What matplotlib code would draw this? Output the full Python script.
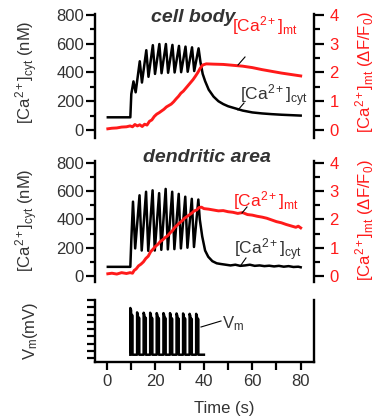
import matplotlib
matplotlib.use('Agg')
import matplotlib.pyplot as plt
from matplotlib.lines import Line2D

plt.rcParams['font.family'] = ['Liberation Sans', 'DejaVu Sans']
plt.rcParams['mathtext.fontset'] = 'custom'
plt.rcParams['mathtext.rm'] = 'Liberation Sans'
plt.rcParams['mathtext.it'] = 'Liberation Sans:italic'
plt.rcParams['mathtext.bf'] = 'Liberation Sans:bold'

# ---- data ----
# cell body, cytosolic Ca (nM)
body_cyt_t = [0.3, 9.6, 10.0, 10.9, 11.8, 13.5, 14.4, 16.2, 17.1, 18.9, 19.8, 21.6, 22.5,
              24.3, 25.2, 27.0, 27.9, 29.7, 30.6, 32.4, 33.3, 35.1, 36.0, 37.8, 38.6,
              39.5, 40.5, 42, 44, 46, 48, 50, 53, 56, 60, 64, 68, 72, 76, 80]
body_cyt_v = [88, 88, 250, 338, 262, 478, 330, 555, 370, 590, 390, 598, 395,
              598, 398, 592, 400, 585, 402, 580, 405, 575, 410, 568, 470,
              390, 340, 280, 232, 200, 180, 165, 150, 135, 122, 115, 110, 106, 103, 100]
# cell body, mitochondrial Ca (dF/F0)
body_mt_t = [0.3, 2, 4, 6, 8, 9.5, 10.5, 11.5, 12.5, 13.5, 14.5, 15.5, 16.5, 17.5, 18.5,
             19.5, 20.5, 21.5, 22.5, 23.5, 24.5, 25.5, 26.5, 27.5, 28.5, 29.5, 30.5,
             31.5, 32.5, 33.5, 34.5, 35.5, 36.5, 37.5, 38.5, 39.5, 41, 44, 48, 52, 56,
             60, 64, 68, 72, 76, 80]
body_mt_v = [0.04, 0.06, 0.07, 0.10, 0.11, 0.14, 0.11, 0.19, 0.14, 0.18, 0.12, 0.2, 0.17,
             0.3, 0.35, 0.47, 0.55, 0.6, 0.66, 0.72, 0.8, 0.85, 0.9, 0.98, 1.08, 1.17,
             1.28, 1.35, 1.45, 1.55, 1.65, 1.75, 1.87, 2.0, 2.15, 2.26, 2.3, 2.29, 2.28,
             2.25, 2.22, 2.17, 2.1, 2.04, 1.98, 1.93, 1.88]

# dendritic area, cytosolic Ca (nM)
dend_cyt_t = [0.3, 9.6, 10.0, 10.7, 11.6, 13.4, 14.3, 16.1, 17.0, 18.8, 19.7, 21.5, 22.4,
              24.2, 25.1, 26.9, 27.8, 29.6, 30.5, 32.3, 33.2, 35.0, 35.9, 37.7, 38.3,
              39.3, 40.5, 41.8, 43.5, 45.3, 47, 49, 51, 53, 55, 57, 59, 61, 63, 65, 67,
              69, 71, 73, 75, 77, 79, 80]
dend_cyt_v = [65, 65, 250, 525, 195, 570, 180, 595, 178, 605, 180, 585, 185,
              615, 188, 595, 190, 580, 195, 560, 200, 545, 205, 540, 400,
              280, 180, 136, 105, 90, 85, 80, 75, 80, 72, 75, 80, 72, 75, 70, 73,
              68, 72, 66, 70, 64, 66, 62]
# dendritic area, mitochondrial Ca (dF/F0)
dend_mt_t = [0.3, 2, 4, 6, 8, 9.5, 10.5, 11.2, 12, 13, 14, 15, 16, 17, 18, 19, 20, 21, 22,
             23, 24, 25, 26, 27, 28, 29, 30, 31, 32, 33, 34, 35, 36, 37, 38, 39, 40, 42,
             44, 46, 48, 50, 52, 54, 56, 58, 60, 62, 64, 66, 68, 70, 72, 74, 76, 78, 79, 80]
dend_mt_v = [0.08, 0.1, 0.07, 0.12, 0.09, 0.12, 0.1, 0.2, 0.25, 0.36, 0.42, 0.5, 0.62, 0.7,
             0.86, 0.95, 1.05, 1.12, 1.22, 1.28, 1.36, 1.42, 1.52, 1.6, 1.72, 1.8, 1.88,
             1.95, 2.04, 2.1, 2.16, 2.22, 2.3, 2.33, 2.42, 2.43, 2.38, 2.36, 2.33, 2.3,
             2.31, 2.27, 2.25, 2.21, 2.24, 2.17, 2.15, 2.11, 2.08, 2.04, 1.98, 1.92, 1.88,
             1.82, 1.77, 1.72, 1.76, 1.7]

# membrane potential: burst onsets (s) and peak / shoulder values (mV)
vm_onset = [9.6, 12.4, 15.1, 17.8, 20.5, 23.3, 26.0, 28.7, 31.4, 34.1, 36.8]
vm_peak = [58, 46, 45, 45, 44, 44, 44, 43, 43, 42, 42]
vm_shoulder = [40, 33, 33, 32, 32, 32, 31, 31, 31, 30, 30]
vm_rest = -70
vm_end = 40.0

W, H = 385, 417
fig = plt.figure(figsize=(W / 100, H / 100), dpi=100)


def box(l, r, t, b):
    return [l / W, 1 - b / H, (r - l) / W, (b - t) / H]


def fx(x):
    return x / W


def fy(y):
    return 1 - y / H


GRAY = '#333333'
RED = '#ff1a1a'
XLIM = (-5, 85.5)
CYT = r'[Ca$^{\mathrm{2+}}$]$_{\mathrm{cyt}}$'
MT = r'[Ca$^{\mathrm{2+}}$]$_{\mathrm{mt}}$'


def ca_panel(pos, ylim, rlim, cyt_t, cyt_v, mt_t, mt_v):
    ax = fig.add_axes(pos)
    ax.plot(cyt_t, cyt_v, color='black', lw=1.8, solid_joinstyle='round')
    ax.set_xlim(*XLIM)
    ax.set_ylim(*ylim)
    ax.set_yticks([0, 200, 400, 600, 800])
    ax.set_yticks([100, 300, 500, 700], minor=True)
    ax.tick_params(axis='y', which='major', direction='out', length=6.5, width=1.6,
                   labelsize=12, labelcolor=GRAY, pad=1.5)
    ax.tick_params(axis='y', which='minor', direction='out', length=3.6, width=1.6)
    ax.set_xticks([])
    for s in ['top', 'bottom', 'right']:
        ax.spines[s].set_visible(False)
    ax.spines['left'].set_linewidth(1.7)
    ax.patch.set_visible(False)

    axr = ax.twinx()
    axr.plot(mt_t, mt_v, color=RED, lw=2.1, solid_joinstyle='round')
    axr.set_xlim(*XLIM)
    axr.set_ylim(*rlim)
    axr.set_yticks([0, 1, 2, 3, 4])
    axr.set_yticks([0.5, 1.5, 2.5, 3.5], minor=True)
    axr.tick_params(axis='y', which='major', direction='out', length=7, width=1.6,
                    labelsize=12, labelcolor=RED, pad=4)
    axr.tick_params(axis='y', which='minor', direction='out', length=4.5, width=1.6)
    for s in ['top', 'bottom', 'left']:
        axr.spines[s].set_visible(False)
    axr.spines['right'].set_linewidth(1.7)
    return ax, axr


ax1, ax1r = ca_panel(box(95, 314, 14, 138), (-56, 807), (-0.28, 4.035),
                     body_cyt_t, body_cyt_v, body_mt_t, body_mt_v)
ax2, ax2r = ca_panel(box(95, 314, 161, 282), (-42, 812), (-0.21, 4.06),
                     dend_cyt_t, dend_cyt_v, dend_mt_t, dend_mt_v)

# membrane potential panel
vm_t, vm_v = [], []
for t0, pk, sh in zip(vm_onset, vm_peak, vm_shoulder):
    vm_t += [t0, t0, t0 + 0.3, t0 + 0.3, t0 + 0.55, t0 + 0.9, t0 + 0.9]
    vm_v += [vm_rest, pk, pk - 6, vm_rest + 5, sh, sh - 3, vm_rest]
vm_t.append(vm_end)
vm_v.append(vm_rest)

ax3 = fig.add_axes(box(95, 314, 300, 362))
ax3.plot(vm_t, vm_v, color='black', lw=1.8)
ax3.set_xlim(*XLIM)
ax3.set_ylim(-90, 80)
ax3.set_yticks(range(-80, 81, 20))
ax3.set_yticklabels([])
ax3.set_xticks(range(0, 81, 10))
ax3.set_xticklabels(['0', '', '20', '', '40', '', '60', '', '80'])
ax3.tick_params(axis='y', direction='out', length=5.5, width=1.6)
ax3.tick_params(axis='x', direction='out', length=6, width=1.6, labelsize=12,
                labelcolor=GRAY, pad=3)
ax3.spines['top'].set_visible(False)
for s in ['left', 'right', 'bottom']:
    ax3.spines[s].set_linewidth(1.7)

# titles
fig.text(fx(193), fy(17), 'cell body', ha='center', va='center', fontsize=14,
         fontweight='bold', fontstyle='italic', color=GRAY)
fig.text(fx(207), fy(157), 'dendritic area', ha='center', va='center', fontsize=14,
         fontweight='bold', fontstyle='italic', color=GRAY)

# axis labels
for yc in [72, 220]:
    fig.text(fx(27), fy(yc), CYT + ' (nM)', rotation=90, ha='center', va='center',
             fontsize=12, color=GRAY)
    fig.text(fx(365), fy(yc), MT + ' (ΔF/F$_{\\mathrm{0}}$)', rotation=90, ha='center',
             va='center', fontsize=12, color=RED)
fig.text(fx(30), fy(331), r'V$_{\mathrm{m}}$(mV)', rotation=90, ha='center', va='center',
         fontsize=12, color=GRAY)
fig.text(fx(224), fy(408), 'Time (s)', ha='center', va='center', fontsize=12, color=GRAY)

# trace annotations
fig.text(fx(232), fy(31), MT, ha='left', va='baseline', fontsize=12.5, color=RED)
fig.add_artist(Line2D([fx(238), fx(245)], [fy(65), fy(57)], color='black', lw=0.8))
fig.text(fx(240), fy(101), CYT, ha='left', va='baseline', fontsize=12.5, color=GRAY)
fig.add_artist(Line2D([fx(238), fx(244)], [fy(110), fy(103)], color='black', lw=0.8))

fig.text(fx(233), fy(206), MT, ha='left', va='baseline', fontsize=12.5, color=RED)
fig.add_artist(Line2D([fx(242), fx(247)], [fy(213), fy(207)], color='black', lw=0.8))
fig.text(fx(234), fy(255), CYT, ha='left', va='baseline', fontsize=12.5, color=GRAY)
fig.add_artist(Line2D([fx(241), fx(246)], [fy(265), fy(258)], color='black', lw=0.8))

fig.text(fx(222), fy(328), r'V$_{\mathrm{m}}$', ha='left', va='baseline', fontsize=12,
         color=GRAY)
fig.add_artist(Line2D([fx(201), fx(221)], [fy(327), fy(321)], color='black', lw=0.8))

fig.savefig('out.png', dpi=100)
